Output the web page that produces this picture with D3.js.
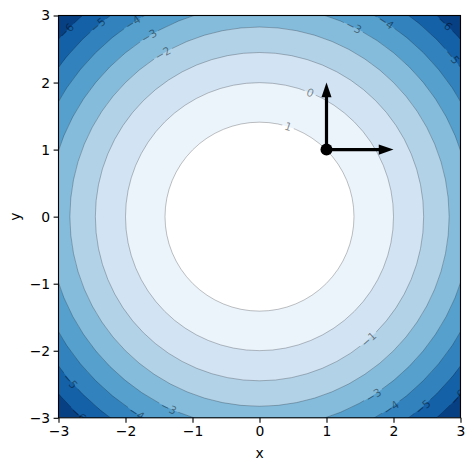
<!DOCTYPE html>
<html>
<head>
<meta charset="utf-8">
<script src="https://cdn.jsdelivr.net/npm/d3@7"></script>
<style>
  body { margin: 0; background: #fff; }
  svg { display: block; font-family: "DejaVu Sans", sans-serif; }
</style>
</head>
<body>
<div id="chart"></div>
<script>
// contour levels and the radius each level line has
const levels = [1, 0, -1, -2, -3, -4, -5, -6];
const levelRadii = [1.41, 2.0, 2.45, 2.83, 3.16, 3.46, 3.74, 4.0];
// fill of the band just outside each level (the last one reaches the corners)
const bandColors = ["#ebf3fb", "#d2e3f3", "#b2d2e8", "#85bcdc", "#56a0ce", "#3282be", "#1461a8", "#084084"];

// inline contour labels: level, x, y
const labelLevels = [1, 0, -1, -2, -3, -4, -5, -6, -3, -4, -6, -5, -5, -6, -4, -3, -3, -4, -5, -6];
const labelX = [0.44, 0.77, 1.62, -1.46, -1.66, -1.90, -2.43, -2.90, 1.43, 1.90, 2.80, 2.90, -2.81, -2.69, -1.83, -1.35, 1.71, 1.96, 2.44, 2.96];
const labelY = [1.38, 1.88, -1.82, 2.46, 2.71, 2.91, 2.88, 2.79, 2.88, 2.92, 2.92, 2.41, -2.44, -2.94, -2.93, -2.84, -2.68, -2.84, -2.84, -2.69];

const xTicks = [-3, -2, -1, 0, 1, 2, 3];
const yTicks = [-3, -2, -1, 0, 1, 2, 3];

// point and the two vectors drawn from it
const origin = [1, 1];
const vectors = [[1, 0], [0, 1]];

const width = 474;
const height = 470;
const plotLeft = 58.5, plotRight = 460.5, plotTop = 15.5, plotBottom = 417.8;

const x = d3.scaleLinear().domain([-3, 3]).range([plotLeft, plotRight]);
const y = d3.scaleLinear().domain([-3, 3]).range([plotBottom, plotTop]);
const fmt = d => (d < 0 ? "\u2212" + Math.abs(d) : "" + d);

const svg = d3.select("#chart").append("svg")
    .attr("width", width)
    .attr("height", height);

const defs = svg.append("defs");
defs.append("clipPath").attr("id", "plot-clip")
  .append("rect")
    .attr("x", plotLeft).attr("y", plotTop)
    .attr("width", plotRight - plotLeft).attr("height", plotBottom - plotTop);

const cx = x(0), cy = y(0);
const rpx = r => x(r) - x(0);

const plot = svg.append("g").attr("clip-path", "url(#plot-clip)");

// filled bands, outermost first
plot.append("rect")
    .attr("x", plotLeft).attr("y", plotTop)
    .attr("width", plotRight - plotLeft).attr("height", plotBottom - plotTop)
    .attr("fill", bandColors[bandColors.length - 1]);

for (let i = levelRadii.length - 1; i >= 1; i--) {
  plot.append("circle")
      .attr("cx", cx).attr("cy", cy)
      .attr("r", rpx(levelRadii[i]))
      .attr("fill", bandColors[i - 1]);
}
plot.append("circle")
    .attr("cx", cx).attr("cy", cy)
    .attr("r", rpx(levelRadii[0]))
    .attr("fill", "#ffffff");

// label placement: snap to the level circle, rotate along it
const labels = labelLevels.map((lv, i) => {
  const r = levelRadii[levels.indexOf(lv)];
  const a = Math.atan2(labelY[i], labelX[i]);
  const px = x(r * Math.cos(a)), py = y(r * Math.sin(a));
  let rot = Math.atan2(px - cx, -(py - cy)) * 180 / Math.PI;
  if (rot > 90) rot -= 180;
  if (rot < -90) rot += 180;
  return { level: lv, px, py, rot };
});

// mask cutting the level lines where labels sit
const mask = defs.append("mask").attr("id", "label-mask")
    .attr("maskUnits", "userSpaceOnUse")
    .attr("x", 0).attr("y", 0).attr("width", width).attr("height", height);
mask.append("rect").attr("width", width).attr("height", height).attr("fill", "white");

const lineG = plot.append("g").attr("mask", "url(#label-mask)");

const labelG = plot.append("g")
    .attr("font-size", 11)
    .attr("fill", "#000")
    .attr("fill-opacity", 0.45);

labels.forEach(d => {
  const t = labelG.append("text")
      .attr("transform", `translate(${d.px},${d.py}) rotate(${d.rot})`)
      .attr("text-anchor", "middle")
      .attr("dy", "0.36em")
      .text(fmt(d.level));
  const w = t.node().getComputedTextLength() + 5;
  mask.append("rect")
      .attr("transform", `translate(${d.px},${d.py}) rotate(${d.rot})`)
      .attr("x", -w / 2).attr("y", -6)
      .attr("width", w).attr("height", 12)
      .attr("fill", "black");
});

lineG.selectAll("circle")
    .data(levelRadii)
    .join("circle")
      .attr("cx", cx).attr("cy", cy)
      .attr("r", d => rpx(d))
      .attr("fill", "none")
      .attr("stroke", "#000")
      .attr("stroke-opacity", 0.35)
      .attr("stroke-width", 0.7);

// vectors from the point
const headLen = 0.22, headHalf = 0.075;
const arrows = svg.append("g");
vectors.forEach(v => {
  const [ox, oy] = origin;
  const tx = ox + v[0], ty = oy + v[1];
  const ux = v[0], uy = v[1];
  const bx = tx - ux * headLen, by = ty - uy * headLen;
  arrows.append("line")
      .attr("x1", x(ox)).attr("y1", y(oy))
      .attr("x2", x(bx + ux * 0.02)).attr("y2", y(by + uy * 0.02))
      .attr("stroke", "#000")
      .attr("stroke-width", 3.2);
  const pts = [
    [tx, ty],
    [bx - uy * headHalf, by + ux * headHalf],
    [bx + uy * headHalf, by - ux * headHalf]
  ];
  arrows.append("polygon")
      .attr("points", pts.map(p => `${x(p[0])},${y(p[1])}`).join(" "))
      .attr("fill", "#000");
});
arrows.append("circle")
    .attr("cx", x(origin[0])).attr("cy", y(origin[1]))
    .attr("r", 6)
    .attr("fill", "#000");

// axes
const xAxis = svg.append("g")
    .attr("transform", `translate(0,${plotBottom})`)
    .call(d3.axisBottom(x).tickValues(xTicks).tickFormat(fmt).tickSize(4.9).tickPadding(3.5))
    .call(g => g.select(".domain").remove());
const yAxis = svg.append("g")
    .attr("transform", `translate(${plotLeft},0)`)
    .call(d3.axisLeft(y).tickValues(yTicks).tickFormat(fmt).tickSize(4.9).tickPadding(3.5))
    .call(g => g.select(".domain").remove());
[xAxis, yAxis].forEach(g => {
  g.attr("font-family", "DejaVu Sans, sans-serif").attr("font-size", 13.9);
  g.selectAll(".tick line").attr("stroke", "#000").attr("stroke-width", 1.1);
  g.selectAll(".tick text").attr("fill", "#000");
});

svg.append("rect")
    .attr("x", plotLeft).attr("y", plotTop)
    .attr("width", plotRight - plotLeft).attr("height", plotBottom - plotTop)
    .attr("fill", "none")
    .attr("stroke", "#000")
    .attr("stroke-width", 1.1);

svg.append("text")
    .attr("x", (plotLeft + plotRight) / 2)
    .attr("y", 458)
    .attr("text-anchor", "middle")
    .attr("font-size", 13.9)
    .text("x");

svg.append("text")
    .attr("transform", `translate(20,${(plotTop + plotBottom) / 2}) rotate(-90)`)
    .attr("text-anchor", "middle")
    .attr("font-size", 13.9)
    .text("y");
</script>
</body>
</html>
